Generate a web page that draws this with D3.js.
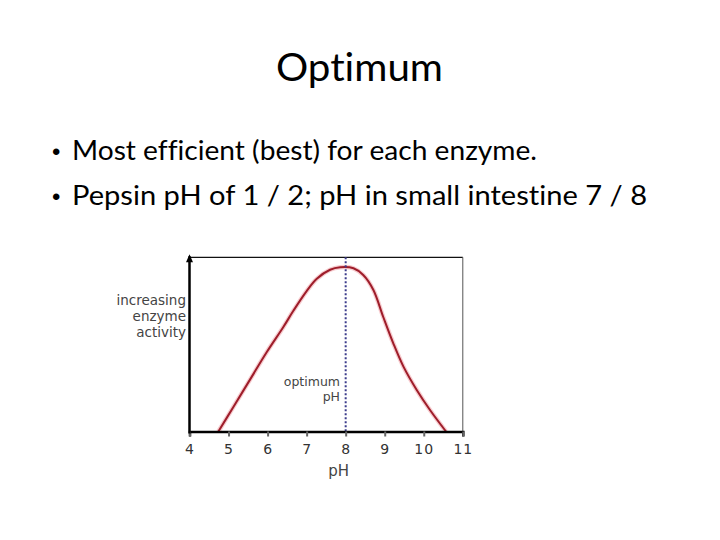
<!DOCTYPE html>
<html>
<head>
<meta charset="utf-8">
<script src="https://cdn.jsdelivr.net/npm/d3@7"></script>
<style>
  html, body { margin: 0; padding: 0; background: #fff; }
  svg { display: block; }
  text { font-variant-ligatures: none; font-feature-settings: "liga" 0, "clig" 0; }
</style>
</head>
<body>
<svg id="chart" width="720" height="540"></svg>
<script>
// ---- data ----
const titleText = "Optimum";
const bullets = [
  "Most efficient (best) for each enzyme.",
  "Pepsin pH of 1 / 2; pH in small intestine 7 / 8"
];
const xTicks = [4, 5, 6, 7, 8, 9, 10, 11];
const xLabel = "pH";
const yLabelLines = ["increasing", "enzyme", "activity"];
const optimumLabel = ["optimum", "pH"];
const optimumPH = 8;
const curvePH =       [4.74, 5.12, 5.55, 5.98, 6.40, 6.66, 7.00, 7.26, 7.60, 7.86, 8.20, 8.45, 8.71, 8.96, 9.22, 9.48, 9.82, 10.16, 10.57];
const curveActivity = [0,    14.8, 31.6, 48.4, 63.5, 73.5, 85.5, 93.0, 98.5, 100,  99.4, 95.3, 86.2, 69.9, 53.7, 39.5, 25.3, 13.1,  0];

// ---- drawing ----
const svg = d3.select("#chart");
const font = "Lato, 'Open Sans', sans-serif";
const smallFont = "'DejaVu Sans', Verdana, sans-serif";

svg.append("text")
  .attr("x", 359.5).attr("y", 81)
  .attr("text-anchor", "middle")
  .attr("font-family", font).attr("font-size", 38)
  .attr("fill", "#000")
  .attr("textLength", 167).attr("lengthAdjust", "spacingAndGlyphs")
  .text(titleText);

const bulletY = [160, 205];
const bulletW = [465, 575];
bullets.forEach((b, i) => {
  svg.append("text")
    .attr("x", 52).attr("y", bulletY[i])
    .attr("font-family", "Arial, sans-serif").attr("font-size", 24)
    .attr("fill", "#000")
    .text("•");
  svg.append("text")
    .attr("x", 72).attr("y", bulletY[i])
    .attr("font-family", font).attr("font-size", 27)
    .attr("fill", "#000")
    .attr("textLength", bulletW[i]).attr("lengthAdjust", "spacingAndGlyphs")
    .text(b);
});

const x = d3.scaleLinear().domain([4, 11]).range([189.5, 462.8]);
const y = d3.scaleLinear().domain([0, 106.1]).range([431.5, 257.3]);

const g = svg.append("g");

// frame (top and right)
g.append("line")
  .attr("x1", x(4)).attr("x2", x(11))
  .attr("y1", y(106.1)).attr("y2", y(106.1))
  .attr("stroke", "#111").attr("stroke-width", 1.2);
g.append("line")
  .attr("x1", x(11)).attr("x2", x(11))
  .attr("y1", y(106.1)).attr("y2", y(0))
  .attr("stroke", "#555").attr("stroke-width", 1);

// curve
const line = d3.line()
  .x((d, i) => x(curvePH[i]))
  .y((d, i) => y(curveActivity[i]))
  .curve(d3.curveCatmullRom.alpha(0.5));
g.append("path")
  .datum(curvePH)
  .attr("d", line)
  .attr("fill", "none")
  .attr("stroke", "#f4b8bc")
  .attr("stroke-width", 4.5)
  .attr("stroke-opacity", 0.7);
g.append("path")
  .datum(curvePH)
  .attr("d", line)
  .attr("fill", "none")
  .attr("stroke", "#9e1d2a")
  .attr("stroke-width", 2);

// optimum dotted line
g.append("line")
  .attr("x1", x(optimumPH)).attr("x2", x(optimumPH))
  .attr("y1", y(106.1)).attr("y2", y(0))
  .attr("stroke", "#3c3c8c").attr("stroke-width", 2)
  .attr("stroke-dasharray", "2,2");

// x axis
const xAxis = d3.axisBottom(x).tickValues(xTicks).tickSize(5).tickPadding(8).tickFormat(d3.format("d"));
const ax = g.append("g")
  .attr("transform", `translate(0,${y(0)})`)
  .call(xAxis);
ax.select(".domain").attr("stroke", "#000").attr("stroke-width", 2.5);
ax.selectAll(".tick line").attr("stroke", "#666").attr("stroke-width", 2);
ax.selectAll(".tick text")
  .attr("font-family", smallFont)
  .attr("font-size", 14).attr("fill", "#333")
  .attr("letter-spacing", 1);

svg.append("text")
  .attr("x", x(7.82)).attr("y", 476)
  .attr("text-anchor", "middle")
  .attr("font-family", smallFont)
  .attr("font-size", 15).attr("fill", "#444")
  .text(xLabel);

// y axis with arrow
g.append("line")
  .attr("x1", x(4)).attr("x2", x(4))
  .attr("y1", y(0) + 2).attr("y2", y(106.1) - 1)
  .attr("stroke", "#000").attr("stroke-width", 2.5);
g.append("path")
  .attr("d", d3.line()([[x(4) - 3.5, y(106.1) + 5], [x(4), y(106.1) - 3], [x(4) + 3.5, y(106.1) + 5]]) + "Z")
  .attr("fill", "#000");

yLabelLines.forEach((t, i) => {
  svg.append("text")
    .attr("x", 186).attr("y", 305 + i * 16)
    .attr("text-anchor", "end")
    .attr("font-family", smallFont)
    .attr("font-size", 13.5).attr("fill", "#444")
    .text(t);
});
optimumLabel.forEach((t, i) => {
  svg.append("text")
    .attr("x", 340).attr("y", 386 + i * 14.5)
    .attr("text-anchor", "end")
    .attr("font-family", smallFont)
    .attr("font-size", 12.5).attr("fill", "#444")
    .text(t);
});
</script>
</body>
</html>
